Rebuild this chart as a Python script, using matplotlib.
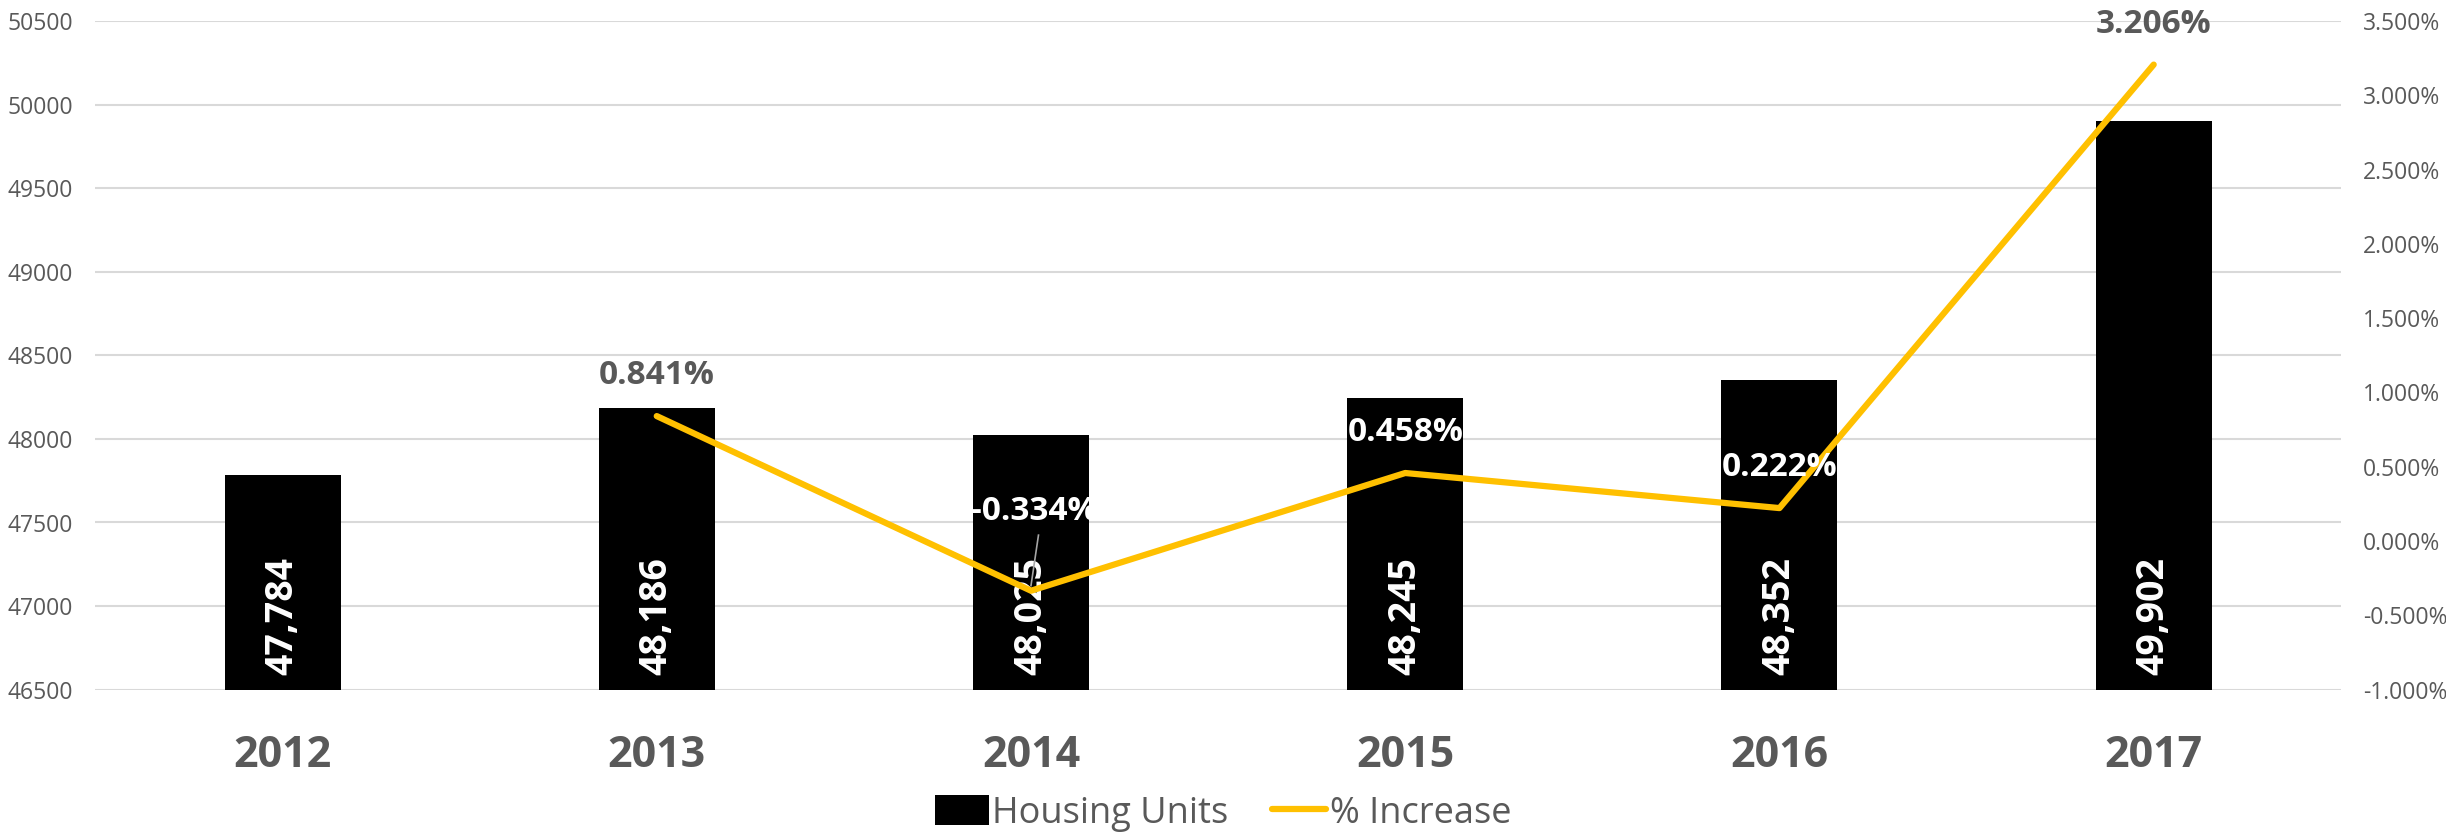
import matplotlib
matplotlib.use("Agg")
import matplotlib.pyplot as plt
from matplotlib.ticker import FuncFormatter, MultipleLocator

years = ["2012", "2013", "2014", "2015", "2016", "2017"]
units = [47784, 48186, 48025, 48245, 48352, 49902]
pct_years = ["2013", "2014", "2015", "2016", "2017"]
pct = [0.841, -0.334, 0.458, 0.222, 3.206]

GOLD = "#FFC000"
GRAY = "#595959"
plt.rcParams["font.family"] = ["Open Sans", "DejaVu Sans"]

fig = plt.figure(figsize=(24.46, 8.36), dpi=100)
ax = fig.add_axes([0.039, 0.175, 0.918, 0.80])
x = list(range(len(years)))
ax.bar(x, units, width=0.31, color="black", zorder=2, label="Housing Units")
ax.set_ylim(46500, 50500)
ax.set_xlim(-0.5, len(years) - 0.5)
ax.yaxis.set_major_locator(MultipleLocator(500))
ax.grid(axis="y", color="#d9d9d9", lw=1.5, zorder=0)
for s in ax.spines.values():
    s.set_visible(False)
ax.tick_params(axis="y", length=0, labelsize=16.5, labelcolor=GRAY, pad=16)
ax.tick_params(axis="x", length=0, labelsize=31, labelcolor=GRAY, pad=32)
ax.set_xticks(x)
ax.set_xticklabels(years, fontweight="bold")

for xi, v in zip(x, units):
    ax.text(xi, 46500 + 90, f"{v:,}", rotation=90, ha="center", va="bottom",
            color="white", fontsize=27, fontweight="bold", zorder=4)

ax2 = ax.twinx()
px = [years.index(y) for y in pct_years]
ax2.plot(px, pct, color=GOLD, lw=4.5, zorder=3, label="% Increase",
         solid_capstyle="round")
ax2.set_ylim(-1.0, 3.5)
ax2.yaxis.set_major_locator(MultipleLocator(0.5))
ax2.yaxis.set_major_formatter(FuncFormatter(lambda v, p: f"{v:.3f}%"))
ax2.tick_params(axis="y", length=0, labelsize=16.5, labelcolor=GRAY, pad=16)
for s in ax2.spines.values():
    s.set_visible(False)

label_style = {"2013": (GRAY, 0.0, 0.27), "2014": ("white", 0.01, 0.53),
               "2015": ("white", 0.0, 0.27), "2016": ("white", 0.0, 0.27),
               "2017": (GRAY, 0.0, 0.27)}
for yr, xi, v in zip(pct_years, px, pct):
    col, dx, dy = label_style[yr]
    ax2.text(xi + dx, v + dy, f"{v:.3f}%", ha="center", va="center",
             color=col, fontsize=24, fontweight="bold", zorder=5)
# leader line for the 2014 label
ax2.plot([px[1] + 0.02, px[1]], [0.04, -0.30], color="#a6a6a6", lw=1.2, zorder=5)

h1, l1 = ax.get_legend_handles_labels()
h2, l2 = ax2.get_legend_handles_labels()
fig.legend(h1 + h2, l1 + l2, loc="center", bbox_to_anchor=(0.5, 0.027),
           ncol=2, frameon=False, fontsize=26, labelcolor=GRAY,
           handlelength=1.5, handleheight=0.9, columnspacing=1.2, handletextpad=0.1)

fig.savefig("out.png", dpi=100)
